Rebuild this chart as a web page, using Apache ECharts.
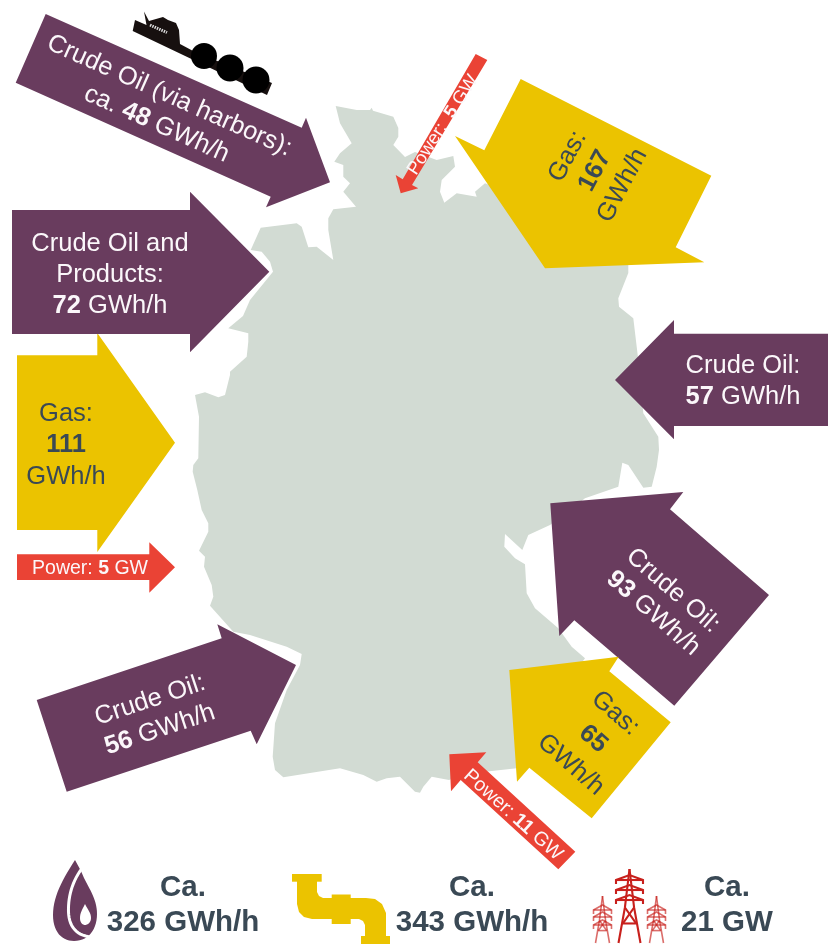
<!DOCTYPE html>
<html><head><meta charset="utf-8">
<style>html,body{margin:0;padding:0;background:#fff}#c{width:830px;height:944px}</style>
<script src="https://cdn.jsdelivr.net/npm/echarts@6/dist/echarts.min.js"></script>
</head><body><div id="c"></div>
<script>
// ---- values ----
const flowLabels = ['Gas','Crude Oil (via harbors)','Crude Oil and Products','Power','Power','Gas','Crude Oil','Crude Oil','Gas','Power','Crude Oil'];
const flowValues = [111,48,72,5,5,167,57,93,65,11,56];
const flowUnits  = ['GWh/h','GWh/h','GWh/h','GW','GW','GWh/h','GWh/h','GWh/h','GWh/h','GW','GWh/h'];
const totalLabels = ['Ca.','Ca.','Ca.'];
const totalValues = [326,343,21];
const totalUnits  = ['GWh/h','GWh/h','GW'];

// ---- geometry / layout (not data) ----
const PURPLE='#693c5e', YELLOW='#ebc300', RED='#ea4335', DARK='#3a4955', MAPC='#d2dbd3', WHITE='#fbf7fa';
const mapOutline=[[335.7,106],[356.7,110],[370,110],[371.7,107.7],[373,110.7],[393.3,116.7],[398.3,128],[398.3,136.7],[393.3,145],[405,157],[415,152],[436.7,160],[453.3,156],[455,166.7],[441.7,180],[440,191.7],[444.3,202.7],[456.7,193.3],[476.7,196.7],[475,191.7],[485,183.3],[560,210],[628.3,262],[628.3,273],[618.3,298.3],[619,306.7],[633.3,318.3],[637.7,355],[643.3,413.3],[658.3,436.7],[659,450],[656.7,466.7],[651.7,486.7],[643.3,487.7],[628.3,465],[622.3,462.7],[618.3,486.7],[585,498.3],[570,510],[550,525],[528.3,535],[522.3,550],[505,534],[504.3,546.7],[515,558.3],[525,564.3],[526.7,593.3],[535,608.3],[558.3,628.3],[571.7,646.7],[585,658.3],[540,720],[516.7,768.3],[485,771.7],[460,776],[449,780],[431.7,776.7],[423.3,786.7],[420,792.7],[415,791.7],[405,781.7],[400,776.7],[386.7,778.3],[376.7,781.7],[363.3,775],[340,768.3],[283.3,777.3],[275,770],[272.7,756.7],[275,723.3],[286.7,690],[300,665],[301.7,654],[286.7,646.7],[250,635],[233.3,631.7],[210,605.7],[213.3,596.7],[211.7,585],[204,566.7],[205,556.7],[199,550.7],[208.3,531.7],[208.3,523.3],[201.7,510],[197.3,490],[192.7,471.7],[193.3,465],[198.3,458.3],[199,416.7],[195,395],[205,392.3],[218.3,397.3],[225,395],[230,375],[230,371.7],[246.7,356.7],[248.3,341.7],[248.3,333.3],[228.3,328.3],[243,316],[250,300],[273,271.7],[270,261.7],[261.7,251.7],[250.7,250],[260.7,227.7],[296.7,223.3],[301.7,226.7],[308.3,247.3],[316.7,246.7],[333.3,260],[328.3,230],[328.3,218.3],[333.3,209.3],[356,206.7],[343.3,191.7],[350,183.3],[343.3,176.7],[343.3,165],[334.3,161.7],[340,153.3],[351.7,143.3],[340,123.3]];

const arrowShapes=[
 [[17,355.3],[97.3,355.3],[97.3,333],[175,442.7],[97.3,552],[97.3,530],[17,530]],
 [[45.7,14],[301.7,127.7],[306,117.7],[330,182.3],[266,207.3],[270.7,196.7],[15.7,82.7]],
 [[12,210],[190,210],[190,191.7],[269.3,271.7],[190,352.3],[190,334],[12,334]],
 [[17,554.3],[149.3,554.3],[149.3,542.3],[175,567.3],[149.3,592.7],[149.3,580],[17,580]],
 [[475.7,54],[487.3,60],[412,185],[418.3,188.3],[400.7,193.3],[395.7,175],[402.7,179.3]],
 [[520.7,79],[711.3,175.7],[675.7,247.3],[704.3,262.3],[545,268.3],[455,136],[484.3,150.3]],
 [[828,333.7],[674,333.7],[674,320],[615,380],[674,439.3],[674,426],[828,426]],
 [[550.3,503.3],[683.3,492],[670,509.3],[769,595],[674.3,705.7],[574.3,620.3],[559.3,636]],
 [[509.3,670],[618.7,656.7],[609.3,671.3],[670.7,722.3],[591.7,818.3],[529.3,767.7],[517,781.7]],
 [[449.3,754.3],[486.3,752.3],[477.7,762.3],[575.3,851.7],[558.3,869.3],[460.7,780],[451,791.3]],
 [[36.7,700],[221.7,638.3],[217.3,624.3],[296,665],[256.7,744.3],[250.7,730.7],[66.7,791.7]]
];
const arrowFill=[YELLOW,PURPLE,PURPLE,RED,RED,YELLOW,PURPLE,PURPLE,YELLOW,RED,PURPLE];
const textFill=[DARK,WHITE,WHITE,WHITE,WHITE,DARK,WHITE,WHITE,DARK,WHITE,WHITE];
// x, y, rotation(deg), font size, line height
const textPlace=[[66,445,0,25.5,31.5],[163,110,-24,25.5,31],[110,274.5,0,25.5,31],[90,568.5,0,19.5,20],[443,125,57,18.5,20],[595,171,62,25.5,31],[743,381,0,25.5,31],[663,602,-41,25.5,30],[593,739,-41,25.5,34],[513,815,-42,19.5,20],[155,715,18.4,25.5,31]];
const flowText=[
 (l,v,u)=>`{n|${l}:}\n{b|${v}}\n{n|${u}}`,
 (l,v,u)=>`{n|${l}:}\n{n|ca. }{b|${v}}{n| ${u}}`,
 (l,v,u)=>`{n|Crude Oil and}\n{n|Products:}\n{b|${v}}{n| ${u}}`,
 (l,v,u)=>`{n|${l}: }{b|${v}}{n| ${u}}`,
 (l,v,u)=>`{n|${l}:  }{b|${v}}{n| ${u}}`,
 (l,v,u)=>`{n|${l}:}\n{b|${v}}\n{n|${u}}`,
 (l,v,u)=>`{n|${l}:}\n{b|${v}}{n| ${u}}`,
 (l,v,u)=>`{n|${l}:}\n{b|${v}}{n| ${u}}`,
 (l,v,u)=>`{n|${l}:}\n{b|${v}}\n{n|${u}}`,
 (l,v,u)=>`{n|${l}: }{b|${v}}{n| ${u}}`,
 (l,v,u)=>`{n|${l}:}\n{b|${v}}{n| ${u}}`
];
const totalPlace=[[183,905],[472,905],[727,905]];

function bez(p0,c1,c2,p1,n=14){const o=[];for(let i=0;i<=n;i++){const t=i/n,u=1-t;o.push([u*u*u*p0[0]+3*u*u*t*c1[0]+3*u*t*t*c2[0]+t*t*t*p1[0],u*u*u*p0[1]+3*u*u*t*c1[1]+3*u*t*t*c2[1]+t*t*t*p1[1]]);}return o;}
const dropOuter=[].concat(bez([75,860],[62,880],[53,897],[53,915]),bez([53,915],[53,932],[62,941],[74,941]),bez([74,941],[88,941],[97,930],[97,914]),bez([97,914],[97,900],[90,890],[84,878]),[[81,871]]);
const dropGap=[].concat(bez([81.5,869],[72,882],[68,897],[68.5,912]),bez([68.5,912],[69,926],[76,936],[92,937]));
const dropInner=[].concat(bez([85,904],[82,910],[80,913],[80,918]),bez([80,918],[80,922],[82,925],[85,925]),bez([85,925],[88,925],[91,922],[91,918]),bez([91,918],[91,913],[88,910],[85,904]));
const pipeBody=[[297,881],[317,881],[317,892],[319,896],[323,898],[366,898],[375,899],[382,904],[386,913],[386,937],[365,937],[365,925],[363,921],[359,919],[312,919],[304,917],[299,912],[297,904]];
const pipeParts=[[[292,874],[321.7,874],[321.7,881.7],[292,881.7]],[[331.7,894.5],[350.7,894.5],[350.7,924],[331.7,924]],[[361,936],[390,936],[390,944],[361,944]]];
const shipHull=[[132.7,31],[135,20],[146.5,25],[144,11.5],[149,21],[163,17],[168,20],[176,23],[179,30],[180,44],[195,52],[272,83],[267,95]];
const shipDomes=[[204,56,13],[230,68,13.5],[256,80,13.5]];
function pylonLines(x,top,bottom,hw,arms,legw){
  const waist=top+(bottom-top)*0.52, wh=hw*0.34, segs=[];
  segs.push([[x,top],[x-wh,waist],[x-legw,bottom]]);
  segs.push([[x,top],[x+wh,waist],[x+legw,bottom]]);
  arms.forEach(a=>{segs.push([[x-hw,a+4],[x-hw,a],[x,a-5],[x+hw,a],[x+hw,a+4]]);segs.push([[x-hw,a],[x+hw,a]]);});
  segs.push([[x-wh,waist],[x+legw*.6,waist+ (bottom-waist)*.45]]);
  segs.push([[x+wh,waist],[x-legw*.6,waist+ (bottom-waist)*.45]]);
  segs.push([[x-legw*.6,waist+(bottom-waist)*.45],[x+legw*.6,waist+(bottom-waist)*.45]]);
  return segs;
}
const pylons=[{s:pylonLines(602.5,896,943,9,[910,917,925],7),o:.65,w:1.6},{s:pylonLines(656.5,896,943,9,[910,917,925],7),o:.65,w:1.6},{s:pylonLines(629.5,869,943,13.5,[880,890,900],11),o:1,w:2.1}];

const chart=echarts.init(document.getElementById('c'),null,{renderer:'canvas'});
const FONT='"Liberation Sans",Arial,sans-serif';
function poly(api,pts,fill,extra){return Object.assign({type:'polygon',shape:{points:pts.map(p=>api.coord(p))},style:{fill:fill}},extra||{});}
chart.setOption({
 animation:false,
 backgroundColor:'#fff',
 grid:{left:0,right:0,top:0,bottom:0},
 xAxis:{type:'value',min:0,max:830,show:false},
 yAxis:{type:'value',min:0,max:944,inverse:true,show:false},
 series:[
  {type:'custom',name:'Germany',coordinateSystem:'cartesian2d',silent:true,z:1,data:[[0]],clip:false,
   renderItem:(p,api)=>poly(api,mapOutline,MAPC)},
  {type:'custom',name:'Tanker',coordinateSystem:'cartesian2d',silent:true,z:2,data:[[0]],clip:false,
   renderItem:(p,api)=>({type:'group',children:[
     poly(api,shipHull,'#17100f'),
     ...shipDomes.map(d=>{const c=api.coord([d[0],d[1]]);return {type:'circle',shape:{cx:c[0],cy:c[1],r:d[2]},style:{fill:'#000'}};}),
     {type:'line',shape:{x1:api.coord([150,25])[0],y1:api.coord([150,25])[1],x2:api.coord([167,32.5])[0],y2:api.coord([167,32.5])[1]},style:{stroke:'#ddd',lineWidth:3,lineDash:[1.5,1]}}
   ]})},
  {type:'custom',name:'Flows',coordinateSystem:'cartesian2d',silent:true,z:3,clip:false,
   data:flowValues.map((v,i)=>[i,v]),
   renderItem:(p,api)=>{
     const i=api.value(0),v=api.value(1),t=textPlace[i],c=api.coord([t[0],t[1]]);
     return {type:'group',children:[
       poly(api,arrowShapes[i],arrowFill[i]),
       {type:'text',x:c[0],y:c[1],rotation:t[2]*Math.PI/180,style:{
         text:flowText[i](flowLabels[i],v,flowUnits[i]),align:'center',verticalAlign:'middle',
         rich:{n:{fontFamily:FONT,fontSize:t[3],lineHeight:t[4],fill:textFill[i]},
               b:{fontFamily:FONT,fontSize:t[3],lineHeight:t[4],fontWeight:'bold',fill:textFill[i]}}}}
     ]};
   }},
  {type:'custom',name:'Totals',coordinateSystem:'cartesian2d',silent:true,z:4,clip:false,
   data:totalValues.map((v,i)=>[i,v]),
   renderItem:(p,api)=>{
     const i=api.value(0),v=api.value(1),c=api.coord(totalPlace[i]);
     const ch=[{type:'text',x:c[0],y:c[1],style:{text:`${totalLabels[i]}\n${v} ${totalUnits[i]}`,align:'center',verticalAlign:'middle',fontFamily:FONT,fontWeight:'bold',fontSize:29.5,lineHeight:35,fill:DARK}}];
     if(i===0){
       ch.push(poly(api,dropOuter,PURPLE));
       ch.push({type:'polyline',shape:{points:dropGap.map(q=>api.coord(q))},style:{stroke:'#fff',lineWidth:3,fill:null}});
       ch.push(poly(api,dropInner,'#fff'));
     } else if(i===1){
       ch.push(poly(api,pipeBody,YELLOW));
       pipeParts.forEach(q=>ch.push(poly(api,q,YELLOW)));
     } else {
       pylons.forEach(py=>py.s.forEach(seg=>ch.push({type:'polyline',shape:{points:seg.map(q=>api.coord(q))},style:{stroke:'#c8201c',lineWidth:py.w,fill:null,opacity:py.o}})));
     }
     return {type:'group',children:ch};
   }}
 ]
});
</script></body></html>
